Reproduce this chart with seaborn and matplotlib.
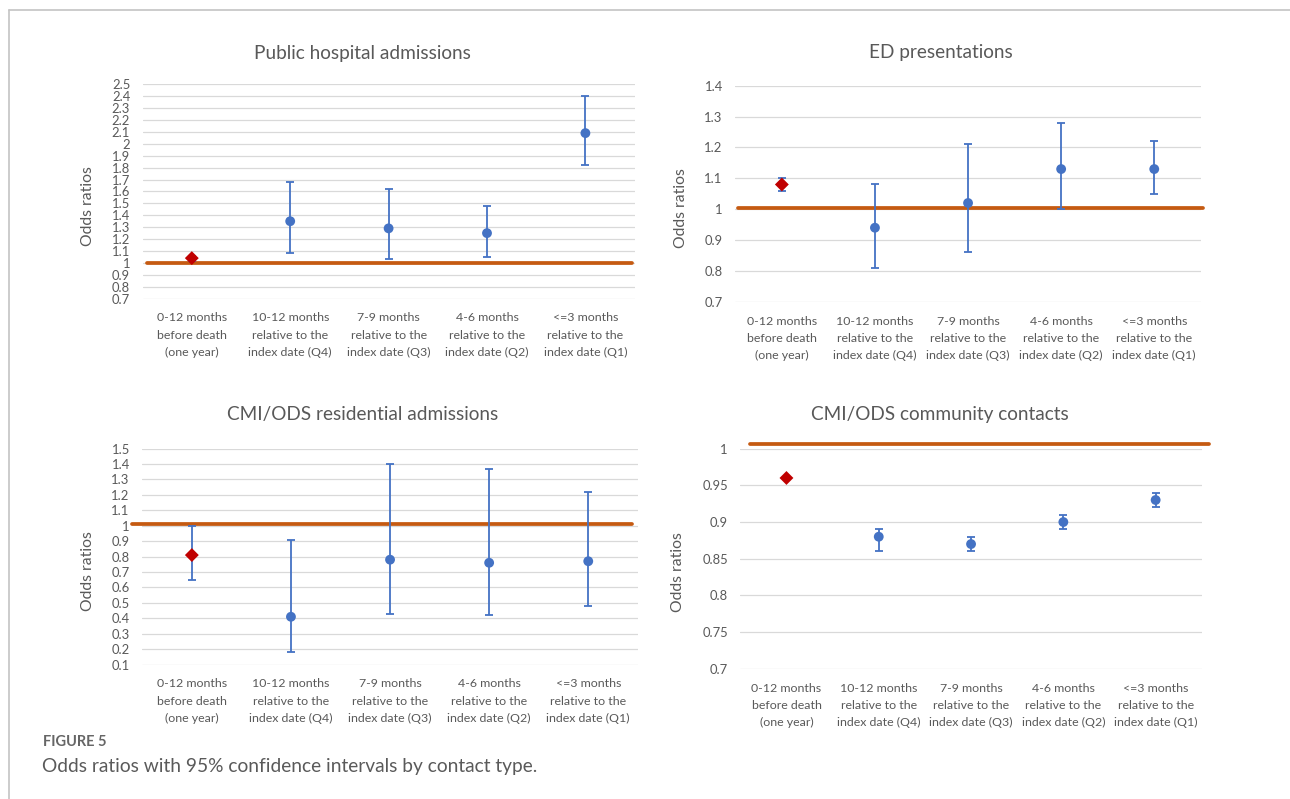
import matplotlib
matplotlib.use("Agg")
import matplotlib.pyplot as plt
from matplotlib.lines import Line2D
import seaborn as sns
import pandas as pd
import numpy as np

# ---------------- data ----------------
categories = [
    "0-12 months\nbefore death\n(one year)",
    "10-12 months\nrelative to the\nindex date (Q4)",
    "7-9 months\nrelative to the\nindex date (Q3)",
    "4-6 months\nrelative to the\nindex date (Q2)",
    "<=3 months\nrelative to the\nindex date (Q1)",
]
kinds = ["year", "quarter", "quarter", "quarter", "quarter"]

titles = [
    "Public hospital admissions",
    "ED presentations",
    "CMI/ODS residential admissions",
    "CMI/ODS community contacts",
]

hosp_or = [1.04, 1.35, 1.29, 1.25, 2.09]
hosp_lo = [1.02, 1.08, 1.03, 1.05, 1.82]
hosp_hi = [1.06, 1.68, 1.62, 1.48, 2.40]

ed_or = [1.08, 0.94, 1.02, 1.13, 1.13]
ed_lo = [1.06, 0.81, 0.86, 1.00, 1.05]
ed_hi = [1.10, 1.08, 1.21, 1.28, 1.22]

res_or = [0.81, 0.41, 0.78, 0.76, 0.77]
res_lo = [0.65, 0.18, 0.43, 0.42, 0.48]
res_hi = [1.00, 0.91, 1.40, 1.37, 1.22]

com_or = [0.96, 0.88, 0.87, 0.90, 0.93]
com_lo = [0.96, 0.86, 0.86, 0.89, 0.92]
com_hi = [0.96, 0.89, 0.88, 0.91, 0.94]

ref_values = [1.0, 1.004, 1.013, 1.006]

y_ranges = [(0.7, 2.5, 0.1), (0.7, 1.4, 0.1), (0.1, 1.5, 0.1), (0.7, 1.0, 0.05)]

panels = [
    (hosp_or, hosp_lo, hosp_hi),
    (ed_or, ed_lo, ed_hi),
    (res_or, res_lo, res_hi),
    (com_or, com_lo, com_hi),
]

# ---------------- style ----------------
sns.set_theme(style="white")
plt.rcParams["font.family"] = ["Lato", "DejaVu Sans"]
TXT = "#595959"
BLUE = "#4472C4"
RED = "#C00000"
ORANGE = "#C55A11"
GRID = "#D9D9D9"

W, H = 1290, 799
fig = plt.figure(figsize=(W / 100, H / 100), dpi=100)
fig.patch.set_facecolor("white")

# axes rectangles in pixel coordinates: x0, x1, ytop, ybottom
rects = [
    (142.6, 634.6, 84.3, 298.6),
    (735.3, 1200.8, 85.7, 301.8),
    (142.3, 637.8, 448.6, 664.6),
    (740.3, 1201.8, 448.6, 668.9),
]
ref_span = [(0.009, 0.995), (0.006, 1.005), (-0.021, 0.988), (0.022, 1.015)]
ylabel_pos = [(-0.0967, 0.430), (-0.102, 0.4345), (-0.0955, 0.4347), (-0.12, 0.4408)]
title_pos = [(362, 53), (941, 52.5), (363, 415), (940, 415)]

for i, ((x0, x1, yt, yb), (orv, lo, hi)) in enumerate(zip(rects, panels)):
    ax = fig.add_axes([x0 / W, 1 - yb / H, (x1 - x0) / W, (yb - yt) / H])
    ymin, ymax, step = y_ranges[i]
    df = pd.DataFrame({"x": np.arange(len(categories)), "OR": orv,
                       "lo": lo, "hi": hi, "kind": kinds})

    # reference line at OR = 1
    ax.axhline(ref_values[i], xmin=ref_span[i][0], xmax=ref_span[i][1],
               color=ORANGE, lw=2.7, zorder=2, clip_on=False)

    # confidence intervals
    ax.errorbar(df["x"], df["OR"],
                yerr=[df["OR"] - df["lo"], df["hi"] - df["OR"]],
                fmt="none", ecolor=BLUE, elinewidth=1.3, capsize=2.8,
                capthick=1.3, zorder=3)

    # point estimates
    sns.scatterplot(data=df, x="x", y="OR", hue="kind", style="kind",
                    palette={"year": RED, "quarter": BLUE},
                    markers={"year": "D", "quarter": "o"},
                    s=50, edgecolor="none", legend=False,
                    ax=ax, zorder=4)

    ticks = np.round(np.arange(ymin, ymax + step / 2, step), 2)
    ax.set_ylim(ymin, ymax)
    ax.set_yticks(ticks)
    ax.set_yticklabels([f"{t:g}" for t in ticks])
    ax.set_xlim(-0.5, len(categories) - 0.5)
    ax.set_xticks(range(len(categories)))
    ax.set_xticklabels(categories, linespacing=1.68)
    ax.yaxis.grid(True, color=GRID, lw=0.9)
    ax.xaxis.grid(False)
    for s in ax.spines.values():
        s.set_visible(False)
    ax.tick_params(axis="y", length=0, pad=9, labelsize=9.4, labelcolor=TXT)
    ax.tick_params(axis="x", length=0, pad=10, labelsize=8.9, labelcolor=TXT)
    ax.set_xlabel("")
    ax.set_ylabel("Odds ratios", fontsize=11.3, color=TXT)
    ax.yaxis.set_label_coords(*ylabel_pos[i])
    ax.set_facecolor("white")

    tx, ty = title_pos[i]
    fig.text(tx / W, 1 - ty / H, titles[i], ha="center", va="center",
             fontsize=13.7, color=TXT)

# caption
fig.text(43 / W, 1 - 741.7 / H, "FIGURE 5", ha="left", va="center",
         fontsize=10.5, fontweight="bold", color="#666666")
fig.text(42 / W, 1 - 766.7 / H,
         "Odds ratios with 95% confidence intervals by contact type.",
         ha="left", va="center", fontsize=13.8, color="#5a5a5a")

# frame lines
fig.add_artist(Line2D([9 / W, 1], [1 - 10 / H, 1 - 10 / H], color="#c4c4c4", lw=1.2))
fig.add_artist(Line2D([9 / W, 9 / W], [1 - 10 / H, 0], color="#c4c4c4", lw=1.2))

fig.savefig("out.png", dpi=100, facecolor="white")
